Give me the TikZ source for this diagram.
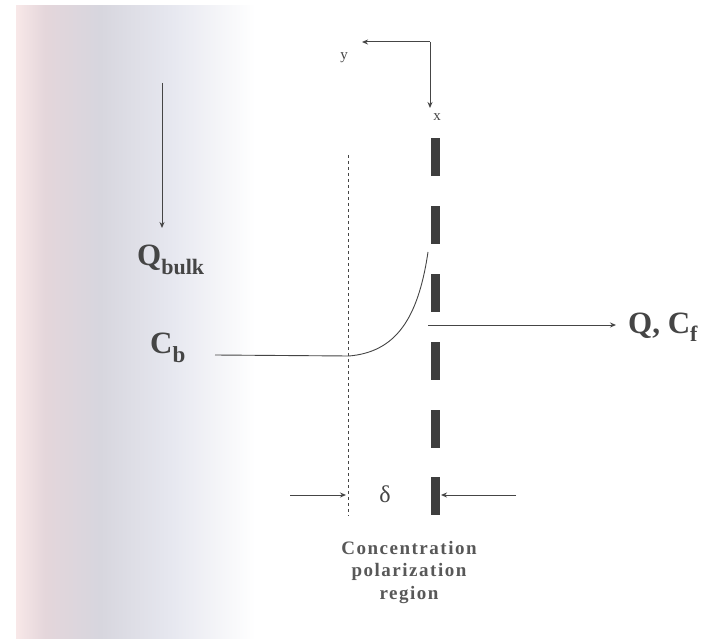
\documentclass[tikz,border=0pt]{standalone}
\usepackage{fontspec}
\setmainfont{Liberation Serif}
\usetikzlibrary{arrows.meta}
\definecolor{ink}{HTML}{454545}
\definecolor{pinkA}{HTML}{F8E8E8}
\definecolor{pinkB}{HTML}{E4D6DB}
\definecolor{grayC}{HTML}{D7D6DE}
\definecolor{grayD}{HTML}{E6E7EF}
\tikzset{
  conn/.style={draw=ink, line width=1pt, -{Stealth[length=6pt,width=5pt]}},
  thin/.style={draw=ink, line width=0.9pt},
  memb/.style={fill=ink!90!black, draw=none},
  bigt/.style={font=\fontsize{31}{32}\selectfont\bfseries, text=ink, inner sep=0pt},
  smallt/.style={font=\fontsize{15}{16}\selectfont, text=ink, inner sep=0pt},
  labt/.style={font=\fontsize{19}{22.5}\selectfont\bfseries\addfontfeature{LetterSpace=8}, text=ink!90, align=center, inner sep=0pt}
}
\begin{document}
\begin{tikzpicture}[x=1pt,y=-1pt]
\useasboundingbox (0,0) rectangle (725,639);
% page shading on the left
\fill[white] (0,0) rectangle (725,639);
\shade[left color=pinkA, right color=pinkB] (16,6) rectangle (45,639);
\shade[left color=pinkB, right color=grayC] (45,6) rectangle (100,639);
\shade[left color=grayC, right color=grayD] (100,6) rectangle (170,639);
\shade[left color=grayD, right color=white] (170,6) rectangle (255,639);

% axes
\coordinate (corner) at (430,42);
\coordinate (yend) at (362,42);
\coordinate (xend) at (430,108);
\draw[conn] (corner) -- (yend);
\draw[conn] (corner) -- (xend);
\node[smallt] (ylab) at (344,58) {y};
\node[smallt] (xlab) at (437,117) {x};

% bulk flow
\coordinate (qtop) at (162,83);
\coordinate (qbot) at (162,228);
\draw[conn] (qtop) -- (qbot);
\node[bigt, anchor=west] (qbulk) at (137,260) {Q\raisebox{-9pt}{\fontsize{22}{22}\selectfont bulk}};
\node[bigt, anchor=west] (cb) at (150,348) {C\raisebox{-9pt}{\fontsize{23}{23}\selectfont b}};

% boundary layer edge (dotted)
\coordinate (dtop) at (348,155);
\coordinate (dbot) at (348,516);
\draw[ink, line width=0.7pt, dash pattern=on 3pt off 3pt] (dtop) -- (dbot);

% membrane
\foreach \y in {138,206,274,342,410,477} {
  \fill[memb] (430.5,\y) rectangle (439.5,\y+38);
}
\coordinate (memtop) at (435,138);

% concentration profile
\coordinate (cstart) at (215,355);
\coordinate (cknee) at (349,356);
\coordinate (cend) at (428,252);
\draw[thin] (cstart) -- (cknee) .. controls (395,352) and (418,320) .. (cend);

% permeate flow
\coordinate (pstart) at (428,325);
\coordinate (pend) at (616,325);
\draw[conn] (pstart) -- (pend);
\node[bigt, anchor=west] (qcf) at (628,327) {Q, C\raisebox{-8pt}{\fontsize{22}{22}\selectfont f}};

% delta markers
\coordinate (la) at (290,495);
\coordinate (lb) at (346,495);
\coordinate (ra) at (516,495);
\coordinate (rb) at (441,495);
\draw[conn] (la) -- (lb);
\draw[conn] (ra) -- (rb);
\node[font=\fontsize{24}{24}\selectfont, text=ink, inner sep=0pt] (delta) at (385,494) {δ};

\node[labt] (cpr) at (409,572) {Concentration\\polarization\\region};
\end{tikzpicture}
\end{document}
